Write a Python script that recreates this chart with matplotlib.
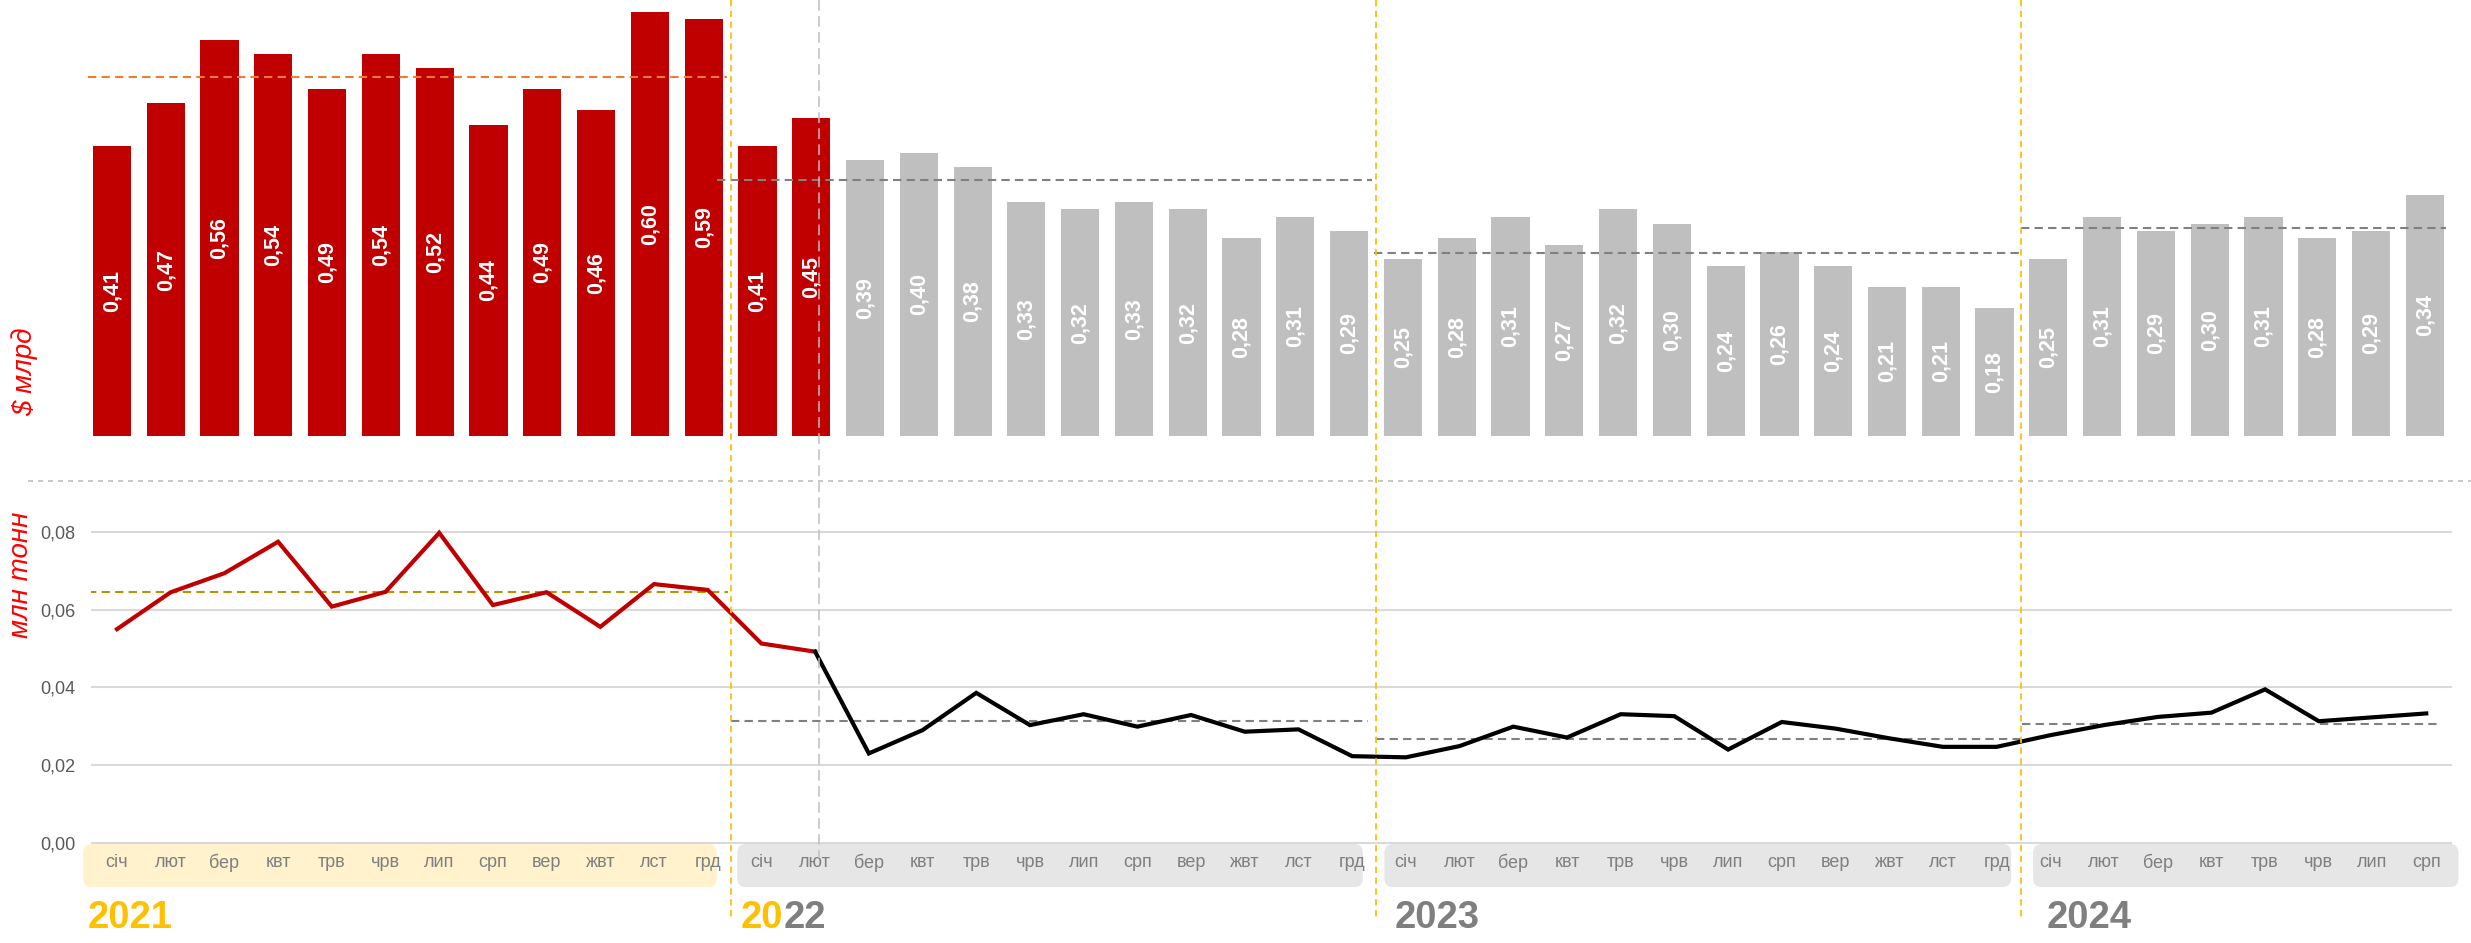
import matplotlib
matplotlib.use("Agg")
import matplotlib.pyplot as plt
from matplotlib.lines import Line2D
from matplotlib.patches import FancyBboxPatch
from matplotlib.transforms import blended_transform_factory

plt.rcParams['font.family'] = ['Liberation Sans', 'DejaVu Sans']

# ---- data ----
years = ['2021', '2022', '2023', '2024']
months = ['січ', 'лют', 'бер', 'квт', 'трв', 'чрв', 'лип', 'срп', 'вер', 'жвт', 'лст', 'грд']
n_months = [12, 12, 12, 8]

# export value, $ bln
value = [0.41, 0.47, 0.56, 0.54, 0.49, 0.54, 0.52, 0.44, 0.49, 0.46, 0.60, 0.59,
         0.41, 0.45, 0.39, 0.40, 0.38, 0.33, 0.32, 0.33, 0.32, 0.28, 0.31, 0.29,
         0.25, 0.28, 0.31, 0.27, 0.32, 0.30, 0.24, 0.26, 0.24, 0.21, 0.21, 0.18,
         0.25, 0.31, 0.29, 0.30, 0.31, 0.28, 0.29, 0.34]
# export volume, mln t
volume = [0.0550, 0.0645, 0.0694, 0.0775, 0.0608, 0.0646, 0.0798, 0.0612, 0.0645, 0.0556, 0.0666, 0.0651,
          0.0513, 0.0492, 0.0230, 0.0290, 0.0386, 0.0303, 0.0331, 0.0299, 0.0329, 0.0286, 0.0292, 0.0223,
          0.0220, 0.0249, 0.0299, 0.0271, 0.0331, 0.0326, 0.0240, 0.0311, 0.0294, 0.0269, 0.0247, 0.0247,
          0.0277, 0.0303, 0.0324, 0.0335, 0.0395, 0.0313, 0.0323, 0.0333]
# yearly averages (dashed lines)
value_avg = [0.507, 0.362, 0.259, 0.294]
volume_avg = [0.0645, 0.0314, 0.0266, 0.0307]

prewar = 14          # first 14 months (to Feb 2022) shown in red
invasion = 13.14     # position of 24 Feb 2022

RED = '#C00000'
GREY_BAR = '#BFBFBF'
GOLD = '#FFC000'
GREY_TXT = '#7F7F7F'

W, H = 2471, 943
fig = plt.figure(figsize=(W / 100, H / 100), dpi=100)

# ---- top: bars ----
ax = fig.add_axes([0, 1 - 435.7 / H, 1, 435.7 / H])
ax.set_xlim(-2.082, 43.857)
ax.set_ylim(0, 0.6163)
ax.axis('off')

x = list(range(len(value)))
colors = [RED if i < prewar else GREY_BAR for i in x]
ax.bar(x, value, width=0.71, color=colors, zorder=2)
for i, v in zip(x, value):
    ax.text(i, v / 2, f"{v:.2f}".replace('.', ','), rotation=90, ha='center', va='center',
            color='white', fontsize=15.5, fontweight='bold', zorder=3)

starts = [0, 12, 24, 36]
bar_avg_spans = [(-0.45, 11.43), (11.25, 23.42), (23.46, 35.5), (35.5, 43.4)]
for k, (a, b) in enumerate(bar_avg_spans):
    ax.plot([a, b], [value_avg[k]] * 2, ls=(0, (4, 2.5)), lw=1.5,
            color='#ED7D31' if k == 0 else '#808080', zorder=4)

# ---- bottom: line ----
bx = fig.add_axes([91 / W, 0, (2452 - 91) / W, (H - 480) / H])
bx.set_xlim(-0.484, 43.48)
bx.set_ylim(-0.0258, 0.0934)
for s in bx.spines.values():
    s.set_visible(False)
bx.set_xticks([])
bx.set_yticks([0, 0.02, 0.04, 0.06, 0.08])
bx.set_yticklabels(['0,00', '0,02', '0,04', '0,06', '0,08'])
bx.tick_params(axis='y', length=0, pad=11, labelsize=13, labelcolor='#595959')
bx.grid(axis='y', color='#D9D9D9', lw=1.5, zorder=0)

bx.plot(x[:prewar], volume[:prewar], color=RED, lw=3, zorder=4, solid_joinstyle='miter')
bx.plot(x[prewar - 1:], volume[prewar - 1:], color='black', lw=3, zorder=4, solid_joinstyle='miter')

line_avg_spans = [(-0.54, 11.38), (11.43, 23.3), (23.44, 35.47), (35.47, 43.2)]
for k, (a, b) in enumerate(line_avg_spans):
    bx.plot([a, b], [volume_avg[k]] * 2, ls=(0, (4, 2.5)), lw=1.5,
            color='#BF9000' if k == 0 else '#808080', zorder=3)

# month bands + year labels
box_spans = [(-0.63, 11.17), (11.55, 23.2), (23.6, 35.27), (35.68, 43.6)]
year_shift = [-0.54, -0.38, -0.2, -0.06]
asp = 53.7 / 3884
for k, (a, b) in enumerate(box_spans):
    bx.add_patch(FancyBboxPatch((a, -0.0114), b - a, 0.0111,
                                boxstyle='round,pad=0,rounding_size=0.16', mutation_aspect=asp,
                                fc='#FFF2CC' if k == 0 else '#E6E6E6', ec='none',
                                clip_on=False, zorder=1))
    for j in range(n_months[k]):
        bx.text(starts[k] + j, -0.0052, months[j], ha='center', va='center',
                fontsize=13, color=GREY_TXT, clip_on=False, zorder=2)

year_y = -0.0219
fs_year = 27.5
for k, yr in enumerate(years):
    xx = starts[k] + year_shift[k]
    if k == 1:
        # "20" in gold, "22" in grey
        bx.text(xx, year_y, yr[:2], ha='left', va='baseline', fontsize=fs_year, fontweight='bold',
                color=GOLD, clip_on=False)
        bx.annotate(yr[2:], xy=(xx, year_y), xytext=(2 * 0.556 * fs_year, 0), textcoords='offset points',
                    ha='left', va='baseline', fontsize=fs_year, fontweight='bold',
                    color=GREY_TXT, annotation_clip=False)
    else:
        bx.text(xx, year_y, yr, ha='left', va='baseline', fontsize=fs_year, fontweight='bold',
                color=GOLD if k == 0 else GREY_TXT, clip_on=False)

# ---- axis titles ----
fig.text(24.7 / W, 1 - 372 / H, '$ млрд', rotation=90, color='#FF0000', style='italic',
         fontsize=20, ha='center', va='center')
fig.text(21 / W, 1 - 575 / H, 'млн тонн', rotation=90, color='#FF0000', style='italic',
         fontsize=20, ha='center', va='center')

# ---- separators ----
fig.add_artist(Line2D([28 / W, 1], [1 - 480.7 / H] * 2, transform=fig.transFigure,
                      color='#BFBFBF', lw=1.2, ls=(0, (3, 3))))
tr = blended_transform_factory(ax.transData, fig.transFigure)
for b in [11.5, 23.5, 35.5]:
    fig.add_artist(Line2D([b, b], [1, 1 - 920 / H], transform=tr, color=GOLD,
                          lw=1.3, ls=(0, (3.5, 2.5)), zorder=5))
fig.add_artist(Line2D([invasion, invasion], [1, 1 - 858 / H], transform=tr, color='#BFBFBF',
                      lw=1.1, ls=(0, (7, 3.5)), zorder=5))

fig.savefig('out.png', dpi=100)
